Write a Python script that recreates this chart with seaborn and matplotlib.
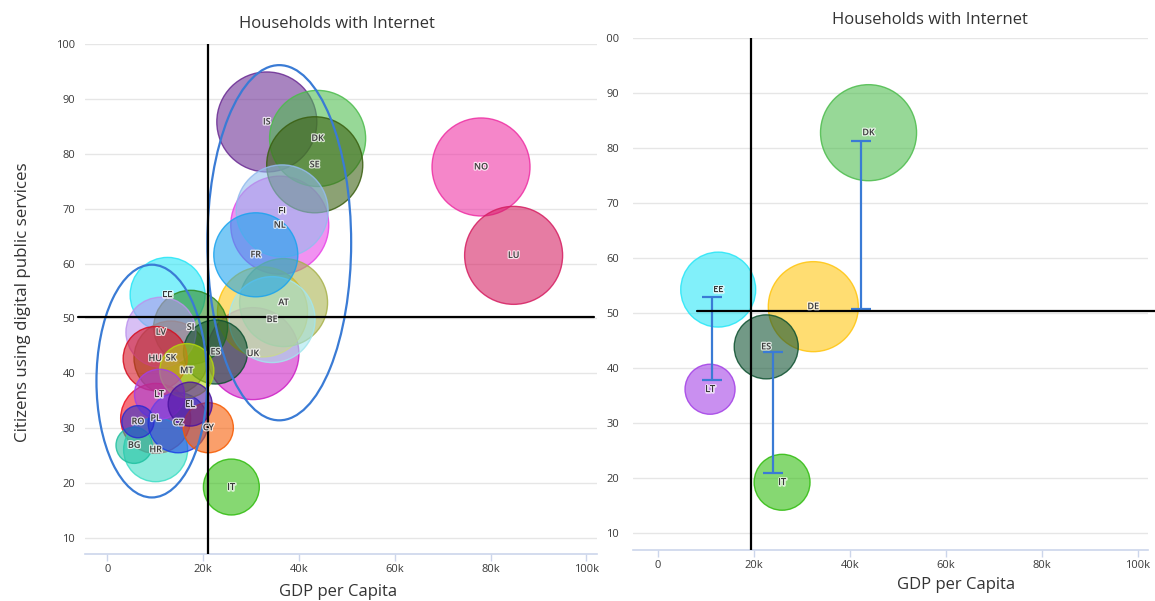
import numpy as np
import pandas as pd
import matplotlib
matplotlib.use("Agg")
import matplotlib.pyplot as plt
import matplotlib.patheffects as pe
from matplotlib.patches import Ellipse
from matplotlib.transforms import Bbox, TransformedBbox
import seaborn as sns

# ---- data -----------------------------------------------------------------
countries = ["IS", "DK", "SE", "FI", "NL", "FR", "NO", "LU", "DE", "AT", "BE",
             "UK", "ES", "EE", "SI", "LV", "HU", "SK", "MT", "LT", "EL", "PL",
             "CZ", "CY", "RO", "BG", "HR", "IT"]
gdp_per_capita = [33300, 43900, 43300, 36500, 36000, 31000, 78000, 84800,
                  32400, 36800, 34400, 30400, 22600, 12600, 17400, 11200,
                  10000, 13300, 16600, 10900, 17300, 10100, 14800, 21100,
                  6400, 5600, 10100, 25900]
digital_services = [85.8, 82.8, 78.0, 69.6, 67.0, 61.6, 77.6, 61.5, 51.2,
                    52.9, 49.8, 43.6, 43.9, 54.3, 48.4, 47.5, 42.7, 42.8,
                    40.5, 36.2, 34.4, 31.8, 31.0, 30.1, 31.2, 26.9, 26.1, 19.3]
households_internet = [97.0, 93.9, 93.9, 90.8, 95.4, 85.2, 95.4, 95.4, 89.4,
                       87.9, 86.5, 90.8, 73.3, 79.4, 78.8, 76.5, 73.3, 78.8,
                       68.6, 66.9, 64.6, 76.5, 71.3, 66.9, 61.0, 62.1, 73.3,
                       69.4]
country_colors = ["#6a2b93", "#4cbc4c", "#3a5f10", "#93bcee", "#e844e8",
                  "#1aa3ee", "#ee2fa3", "#d51e61", "#ffc50d", "#a8b24c",
                  "#a3e6ee", "#cd1ec5", "#0d502f", "#26e6f7", "#2f8a1e",
                  "#bc93ee", "#d50d1e", "#6b7a10", "#b5d80d", "#a33fe6",
                  "#4a12a0", "#ee0d1e", "#1a3fe6", "#f75a00", "#2a2ad0",
                  "#20c0a0", "#3fdec5", "#2fbc0d"]

unlabeled_left = ["DE"]
focus_countries = ["DK", "EE", "DE", "ES", "LT", "IT"]

# gaps highlighted on the focus panel
gap_x = [11400, 24000, 42300]
gap_low = [37.9, 21.0, 50.7]
gap_high = [53.0, 43.0, 81.3]

# thresholds (GDP, digital services) per panel
left_thresholds = (21000, 50.2)
right_thresholds = (19500, 50.4)

x_ticks = [0, 20000, 40000, 60000, 80000, 100000]
x_tick_labels = ["0", "20k", "40k", "60k", "80k", "100k"]
y_ticks = [10, 20, 30, 40, 50, 60, 70, 80, 90, 100]

title = "Households with Internet"
x_title = "GDP per Capita"
y_title = "Citizens using digital public services"

# ---- styling --------------------------------------------------------------
sns.set_theme(style="white")
plt.rcParams["font.family"] = ["Open Sans", "DejaVu Sans"]

DPI = 100
fig = plt.figure(figsize=(11.55, 6.01), dpi=DPI)
ax_l = fig.add_axes([85 / 1155, 1 - 554 / 601, 512 / 1155, 510 / 601])
ax_r = fig.add_axes([633 / 1155, 1 - 550 / 601, 514.6 / 1155, 512 / 601])

df = pd.DataFrame({
    "country": countries,
    "gdp": gdp_per_capita,
    "digital": digital_services,
    "internet": households_internet,
})
palette = dict(zip(countries, country_colors))
# larger bubbles underneath, smaller ones on top
df = df.sort_values("internet", ascending=False, kind="stable")

# bubble area (pt^2) grows linearly with the internet share
r_min_px, r_max_px = 14, 50
size_range = ((r_min_px * 2 * 72 / DPI) ** 2, (r_max_px * 2 * 72 / DPI) ** 2)
size_norm = (60, 97)

grid_col = "#e6e6e6"
axis_col = "#ccd6eb"
text_col = "#333333"
tick_col = "#3a3a3a"
blue = "#3a7bd5"


def bubbles(ax, data, hidden=()):
    sns.scatterplot(data=data, x="gdp", y="digital", hue="country",
                    palette=palette, size="internet", sizes=size_range,
                    size_norm=size_norm, edgecolor="none", legend=False,
                    ax=ax, zorder=2)
    coll = ax.collections[-1]
    fc = np.array(coll.get_facecolors())
    ec = fc.copy()
    fc[:, 3] = 0.58
    ec[:, 3] = 0.85
    coll.set_facecolors(fc)
    coll.set_edgecolors(ec)
    coll.set_linewidths(1.0)
    for _, row in data.iterrows():
        if row["country"] in hidden:
            continue
        ax.text(row["gdp"], row["digital"], row["country"], ha="center",
                va="center", fontsize=6.5, fontweight="semibold",
                color="#3a3a3a", zorder=6,
                path_effects=[pe.withStroke(linewidth=1.8,
                                            foreground=(1, 1, 1, 0.75))])


def frame(ax, xlim, ylim):
    ax.set_xlim(*xlim)
    ax.set_ylim(*ylim)
    ax.set_xticks(x_ticks)
    ax.set_xticklabels(x_tick_labels)
    ax.set_yticks(y_ticks)
    for s in ["top", "right", "left"]:
        ax.spines[s].set_visible(False)
    ax.spines["bottom"].set_color(axis_col)
    ax.spines["bottom"].set_linewidth(1.2)
    ax.grid(axis="y", color=grid_col, linewidth=1.0, zorder=0)
    ax.grid(axis="x", visible=False)
    ax.set_axisbelow(True)
    ax.tick_params(axis="x", length=5, width=1, color=axis_col, pad=2,
                   labelsize=8, labelcolor=tick_col, direction="out",
                   bottom=True)
    ax.set_xlabel("")
    ax.set_ylabel("")


# ---- left panel: all countries --------------------------------------------
bubbles(ax_l, df, hidden=unlabeled_left)
frame(ax_l, (-4640, 102200), (7.1, 100))
ax_l.tick_params(axis="y", length=0, pad=7, labelsize=8, labelcolor=tick_col)

ax_l.add_patch(Ellipse((9300, 38.6), 23100, 42.4, fill=False, edgecolor=blue,
                       linewidth=1.6, zorder=4))
ax_l.add_patch(Ellipse((35900, 63.8), 30000, 64.7, fill=False, edgecolor=blue,
                       linewidth=1.6, zorder=4))

gx, gy = left_thresholds
ax_l.axvline(gx, color="black", linewidth=1.6, zorder=5)
ax_l.plot([-6100, 101500], [gy, gy], color="black", linewidth=1.6,
          zorder=5, clip_on=False)

ax_l.text(0.493, 1.039, title, transform=ax_l.transAxes, ha="center",
          va="center", fontsize=12, color=text_col)
ax_l.set_xlabel(x_title, fontsize=12, color=text_col)
ax_l.xaxis.set_label_coords(0.494, -0.0745)
ax_l.xaxis.label.set_va("center")
ax_l.set_ylabel(y_title, fontsize=12.2, color=text_col)
ax_l.yaxis.set_label_coords(-0.121, 0.494)
ax_l.yaxis.label.set_va("center")

# ---- right panel: selected countries --------------------------------------
focus = df[df["country"].isin(focus_countries)]
bubbles(ax_r, focus)
frame(ax_r, (-5140, 102000), (7.0, 100))
ax_r.tick_params(axis="y", length=0, pad=10, labelsize=8,
                 labelcolor=tick_col)

gap_x_arr = np.array(gap_x)
lo = np.array(gap_low)
hi = np.array(gap_high)
ax_r.errorbar(gap_x_arr, (lo + hi) / 2, yerr=(hi - lo) / 2, fmt="none",
              ecolor=blue, elinewidth=1.6, capsize=7.2, capthick=1.6,
              zorder=4)

gx, gy = right_thresholds
ax_r.axvline(gx, color="black", linewidth=1.6, zorder=5)
ax_r.plot([8100, 103600], [gy, gy], color="black", linewidth=1.6,
          zorder=5, clip_on=False)

ax_r.text(0.577, 1.035, title, transform=ax_r.transAxes, ha="center",
          va="center", fontsize=12, color=text_col)
ax_r.set_xlabel(x_title, fontsize=12, color=text_col)
ax_r.xaxis.set_label_coords(0.628, -0.0674)
ax_r.xaxis.label.set_va("center")

# the right panel's value labels are cut at the panel edge
clip = TransformedBbox(Bbox([[606 / 1155, 0], [1, 1]]), fig.transFigure)
for lab in ax_r.get_yticklabels():
    lab.set_clip_on(True)
    lab.set_clip_box(clip)

fig.savefig("out.png", dpi=DPI)
